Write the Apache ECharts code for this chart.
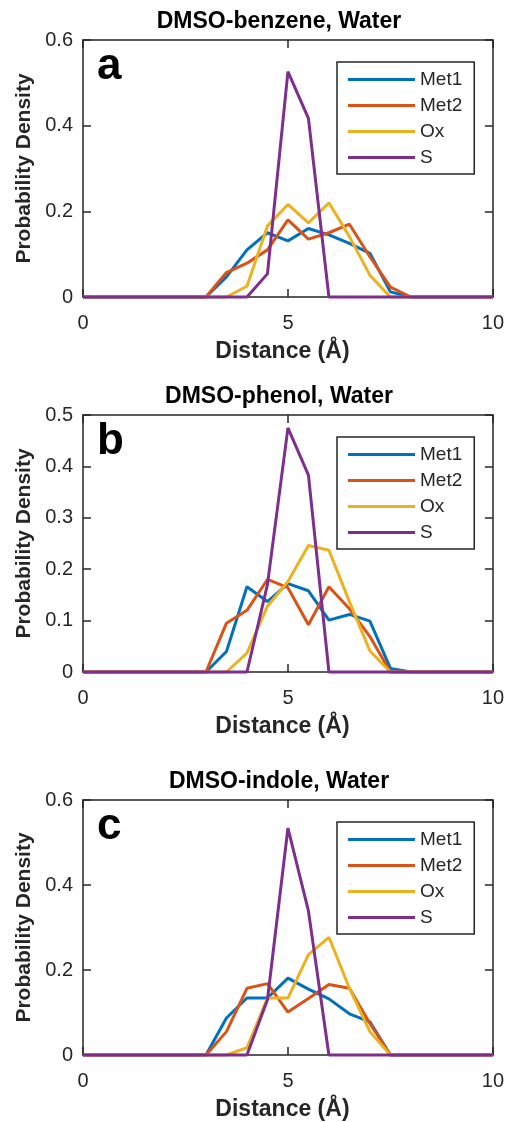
<!DOCTYPE html>
<html><head><meta charset="utf-8">
<script src="https://cdn.jsdelivr.net/npm/echarts@6/dist/echarts.min.js"></script>
<style>html,body{margin:0;padding:0;background:#fff}#c{width:507px;height:1122px}</style>
</head><body><div id="c"></div>
<script>
const distance = [0,0.5,1,1.5,2,2.5,3,3.5,4,4.5,5,5.5,6,6.5,7,7.5,8,8.5,9,9.5,10];
const seriesNames = ['Met1','Met2','Ox','S'];
const panelTitles = ['DMSO-benzene, Water','DMSO-phenol, Water','DMSO-indole, Water'];
const panelLetters = ['a','b','c'];
const yMax = [0.6,0.5,0.6];
const yStep = [0.2,0.1,0.2];
const xMin = 0, xMax = 10, xStep = 5;
const xAxisName = 'Distance (Å)';
const yAxisName = 'Probability Density';

// panel a: DMSO-benzene
const benzeneMet1 = [0,0,0,0,0,0,0,0.047,0.110,0.150,0.131,0.160,0.145,0.125,0.102,0.012,0,0,0,0,0];
const benzeneMet2 = [0,0,0,0,0,0,0,0.057,0.079,0.110,0.180,0.135,0.150,0.170,0.094,0.023,0,0,0,0,0];
const benzeneOx   = [0,0,0,0,0,0,0,0,0.025,0.166,0.216,0.173,0.220,0.141,0.051,0,0,0,0,0,0];
const benzeneS    = [0,0,0,0,0,0,0,0,0,0.054,0.526,0.417,0,0,0,0,0,0,0,0,0];
// panel b: DMSO-phenol
const phenolMet1 = [0,0,0,0,0,0,0,0.040,0.166,0.137,0.172,0.158,0.101,0.112,0.099,0.007,0,0,0,0,0];
const phenolMet2 = [0,0,0,0,0,0,0,0.095,0.120,0.180,0.164,0.092,0.166,0.123,0.069,0,0,0,0,0,0];
const phenolOx   = [0,0,0,0,0,0,0,0,0.037,0.128,0.176,0.246,0.237,0.137,0.041,0,0,0,0,0,0];
const phenolS    = [0,0,0,0,0,0,0,0,0,0.170,0.475,0.383,0,0,0,0,0,0,0,0,0];
// panel c: DMSO-indole
const indoleMet1 = [0,0,0,0,0,0,0,0.087,0.134,0.134,0.181,0.155,0.132,0.097,0.078,0,0,0,0,0,0];
const indoleMet2 = [0,0,0,0,0,0,0,0.055,0.157,0.168,0.101,0.133,0.166,0.157,0.074,0,0,0,0,0,0];
const indoleOx   = [0,0,0,0,0,0,0,0,0.017,0.134,0.134,0.236,0.277,0.157,0.055,0,0,0,0,0,0];
const indoleS    = [0,0,0,0,0,0,0,0,0,0.130,0.534,0.339,0,0,0,0,0,0,0,0,0];

const panelData = [
  [benzeneMet1, benzeneMet2, benzeneOx, benzeneS],
  [phenolMet1, phenolMet2, phenolOx, phenolS],
  [indoleMet1, indoleMet2, indoleOx, indoleS]
];

const colors = ['#0072BD','#D95319','#EDB120','#7E2F8E'];
const FONT = "'Liberation Sans', Arial, Helvetica, sans-serif";
const AX = '#262626';
const gridLeft = 83, gridWidth = 413, gridHeight = 257;
const gridTops = [40, 415, 800];

const grids = [], xAxes = [], yAxes = [], series = [], legends = [], graphics = [];
for (let p = 0; p < 3; p++) {
  const top = gridTops[p];
  grids.push({left: gridLeft, top: top, width: gridWidth, height: gridHeight});
  const lineStyle = {color: AX, width: 1.5};
  const tick = {show: true, inside: true, length: 8, lineStyle: {color: AX, width: 1.5}};
  xAxes.push({
    gridIndex: p, type: 'value', min: xMin, max: xMax, interval: xStep, position: 'bottom',
    axisLine: {show: true, onZero: false, lineStyle}, axisTick: tick,
    axisLabel: {margin: 16, fontSize: 20, color: AX, fontFamily: FONT},
    splitLine: {show: false},
    name: xAxisName, nameLocation: 'middle', nameGap: 43,
    nameTextStyle: {fontSize: 23, fontWeight: 'bold', color: AX, fontFamily: FONT, padding: [0, 11, 0, 0]}
  });
  xAxes.push({
    gridIndex: p, type: 'value', min: xMin, max: xMax, interval: xStep, position: 'top',
    axisLine: {show: true, onZero: false, lineStyle}, axisTick: tick,
    axisLabel: {show: false}, splitLine: {show: false}
  });
  yAxes.push({
    gridIndex: p, type: 'value', min: 0, max: yMax[p], interval: yStep[p], position: 'left',
    axisLine: {show: true, onZero: false, lineStyle}, axisTick: tick,
    axisLabel: {margin: 10, fontSize: 20, color: AX, fontFamily: FONT,
      formatter: v => v === 0 ? '0' : v.toFixed(1)},
    splitLine: {show: false},
    name: yAxisName, nameLocation: 'middle', nameGap: 48, nameRotate: 90,
    nameTextStyle: {fontSize: 21, fontWeight: 'bold', color: AX, fontFamily: FONT}
  });
  yAxes.push({
    gridIndex: p, type: 'value', min: 0, max: yMax[p], interval: yStep[p], position: 'right',
    axisLine: {show: true, onZero: false, lineStyle}, axisTick: tick,
    axisLabel: {show: false}, splitLine: {show: false}
  });
  for (let s = 0; s < 4; s++) {
    const vals = panelData[p][s];
    series.push({
      name: seriesNames[s], type: 'line', xAxisIndex: p * 2, yAxisIndex: p * 2,
      data: distance.map((x, k) => [x, vals[k]]),
      symbol: 'none', showSymbol: false, clip: false, color: colors[s],
      lineStyle: {width: 3, color: colors[s]}, z: 3 + s
    });
  }
  legends.push({
    data: seriesNames, orient: 'vertical', left: 337, top: top + 22,
    icon: 'rect', itemWidth: 67, itemHeight: 3, itemGap: 7, selectedMode: false,
    textStyle: {fontSize: 19, color: AX, fontFamily: FONT, padding: [0,0,0,0]},
    padding: [8, 12, 7, 11], borderColor: AX, borderWidth: 1.5, backgroundColor: '#fff'
  });
  graphics.push({
    type: 'text', x: 279, y: top - 18, z: 10,
    style: {text: panelTitles[p], fill: '#000', font: 'bold 23px ' + FONT, align: 'center', verticalAlign: 'middle'}
  });
  graphics.push({
    type: 'text', x: 97, y: top + 27, z: 10,
    style: {text: panelLetters[p], fill: '#000', font: 'bold 44px ' + FONT, align: 'left', verticalAlign: 'middle'}
  });
}

const chart = echarts.init(document.getElementById('c'), null, {renderer: 'canvas'});
chart.setOption({
  backgroundColor: '#fff', animation: false,
  grid: grids, xAxis: xAxes, yAxis: yAxes, series: series, legend: legends, graphic: graphics
});
</script></body></html>
